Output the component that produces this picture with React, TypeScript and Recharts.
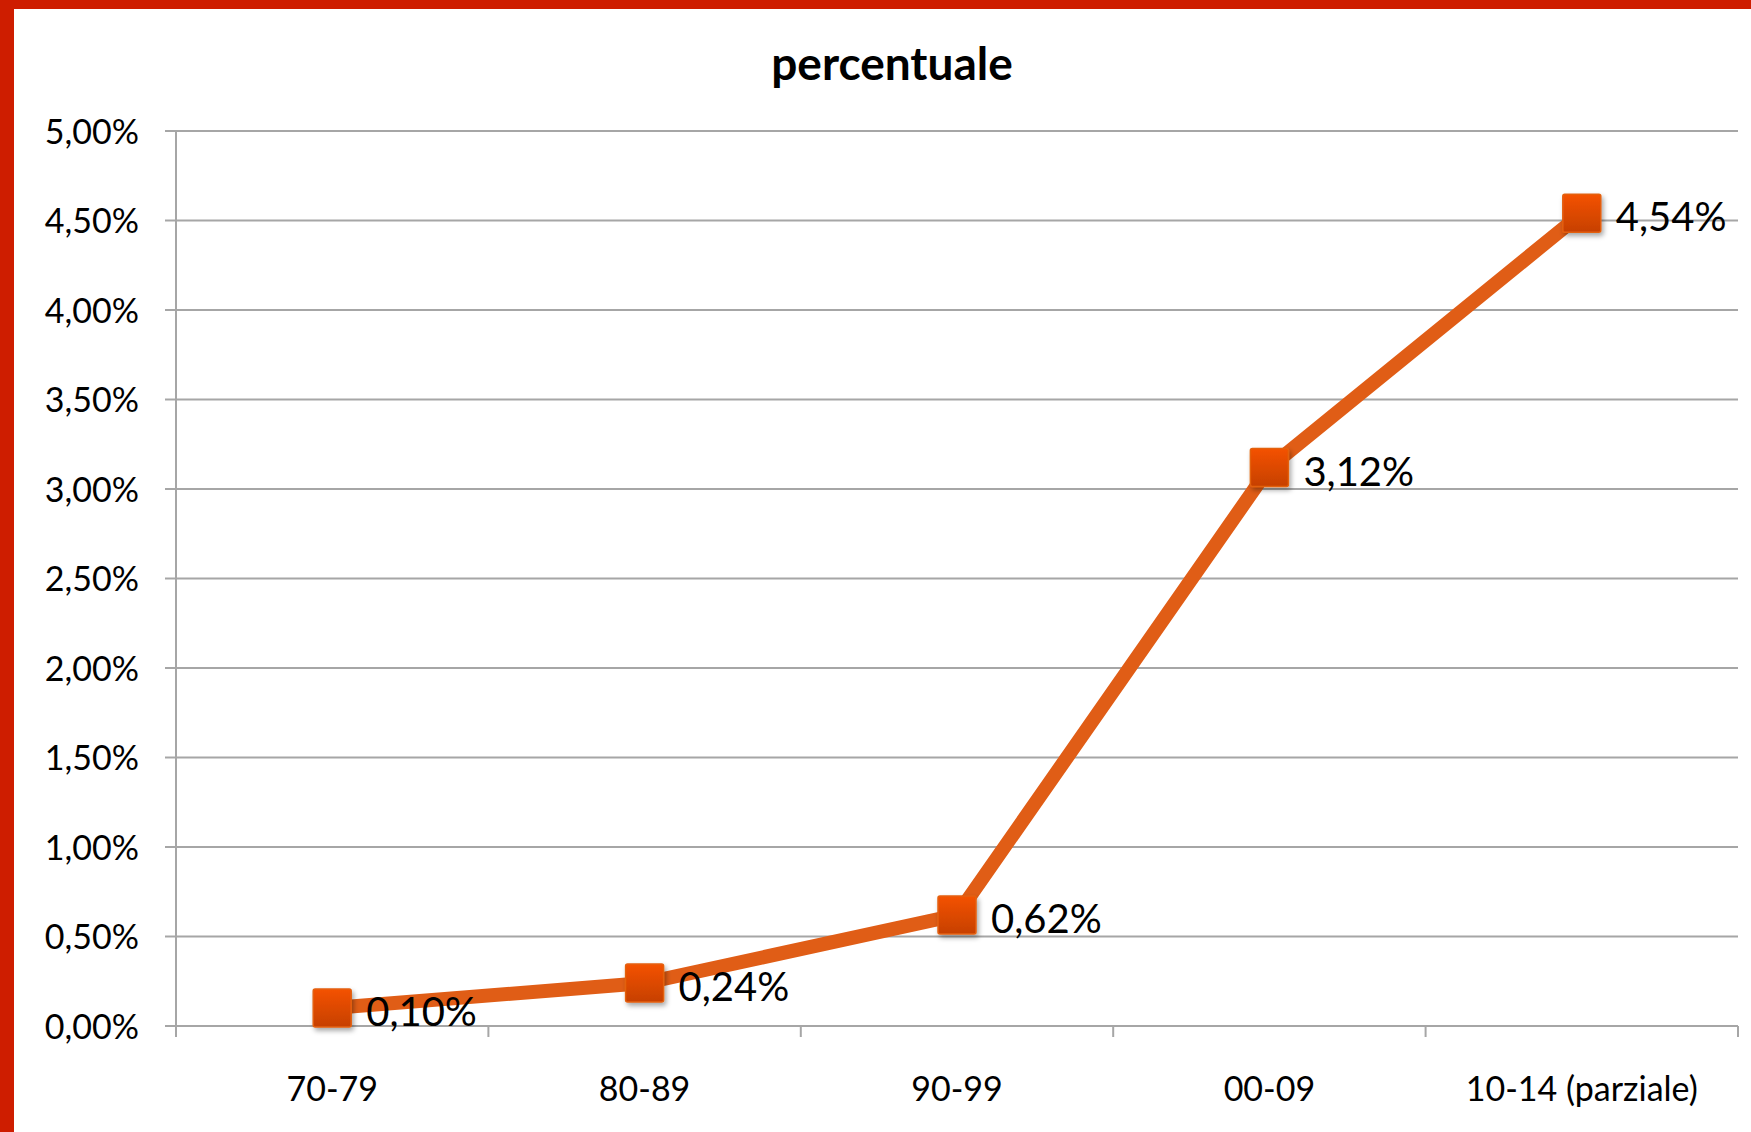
import React from 'react';
import { ComposedChart, Line, XAxis, YAxis, CartesianGrid, LabelList } from 'recharts';

const categories = ['70-79', '80-89', '90-99', '00-09', '10-14 (parziale)'];
const percentValues = [0.10, 0.24, 0.62, 3.12, 4.54];
const yTicks = [0, 0.5, 1, 1.5, 2, 2.5, 3, 3.5, 4, 4.5, 5];
const boundaryTicks = [0, 1, 2, 3, 4, 5];
const title = 'percentuale';

const data = categories.map((c, i) => ({ cat: c, value: percentValues[i] }));

const fmt = (v: number) => v.toFixed(2).replace('.', ',') + '%';

const FONT = 'Lato, "Open Sans", sans-serif';
const GRID = '#A6A6A6';

const renderSquare = (props: any) => {
  const { cx, cy, index } = props;
  if (cx == null || cy == null) return <g key={`d${index}`} />;
  const s = 38;
  const gid = `sqg${index}`;
  const fid = `sqf${index}`;
  return (
    <g key={`d${index}`}>
      <defs>
        <linearGradient id={gid} x1="0" y1="0" x2="0" y2="1">
          <stop offset="0%" stopColor="#F45200" />
          <stop offset="100%" stopColor="#C64000" />
        </linearGradient>
        <filter id={fid} x="-30%" y="-30%" width="170%" height="170%">
          <feDropShadow dx="2" dy="3" stdDeviation="2.5" floodColor="#000" floodOpacity="0.35" />
        </filter>
      </defs>
      <rect
        x={cx - s / 2}
        y={cy - s / 2}
        width={s}
        height={s}
        rx={2}
        fill={`url(#${gid})`}
        stroke="#E3600F"
        strokeWidth={1.5}
        filter={`url(#${fid})`}
      />
    </g>
  );
};

const renderLabel = (props: any) => {
  const { x, y, value, index } = props;
  return (
    <text
      key={`l${index}`}
      x={x + 34}
      y={y + 8}
      fontSize={40}
      fontFamily={FONT}
      fill="#000"
      dominantBaseline="middle"
    >
      {fmt(value)}
    </text>
  );
};

const renderYTick = (props: any) => {
  const { x, y, payload } = props;
  return (
    <text x={x} y={y + 4} textAnchor="end" dominantBaseline="middle" fontSize={34} fontFamily={FONT} fill="#000">
      {fmt(payload.value)}
    </text>
  );
};

const emptyTick = () => <g />;

export default function App() {
  return (
    <div style={{ position: 'absolute', left: 0, top: 0, width: 1751, height: 1132, background: '#fff', overflow: 'hidden' }}>
      <div style={{ position: 'absolute', left: 0, top: 0, width: 1751, height: 9, background: '#CE1D00' }} />
      <div style={{ position: 'absolute', left: 0, top: 0, width: 14, height: 1132, background: '#CE1D00' }} />
      <svg width={1751} height={1132} style={{ position: 'absolute', left: 0, top: 0, pointerEvents: 'none' }}>
        <text x={892} y={80} textAnchor="middle" fontSize={46} fontWeight="bold" fontFamily={FONT} fill="#000">
          {title}
        </text>
      </svg>
      <div style={{ position: 'absolute', left: 0, top: 0 }}>
        <ComposedChart width={1751} height={1132} data={data} margin={{ top: 131, right: 13, left: 0, bottom: 25 }}>
          <CartesianGrid vertical={false} stroke={GRID} strokeWidth={2} />
          <XAxis
            xAxisId="b"
            type="number"
            dataKey={() => 0}
            domain={[0, 5]}
            ticks={boundaryTicks}
            height={1}
            axisLine={false}
            tickLine={{ stroke: GRID, strokeWidth: 2 }}
            tickSize={11}
            tick={emptyTick}
            allowDataOverflow
          />
          <XAxis
            xAxisId="c"
            dataKey="cat"
            scale="band"
            height={80}
            axisLine={false}
            tickLine={false}
            tickSize={11}
            tickMargin={39}
            interval={0}
            tick={{ fontSize: 34, fontFamily: FONT, fill: '#000' }}
          />
          <YAxis
            domain={[0, 5]}
            ticks={yTicks}
            width={176}
            axisLine={{ stroke: GRID, strokeWidth: 2 }}
            tickLine={{ stroke: GRID, strokeWidth: 2 }}
            tickSize={11}
            tickMargin={26}
            tick={renderYTick}
            interval={0}
          />
          <Line
            xAxisId="c"
            dataKey="value"
            stroke="#E05D16"
            strokeWidth={14}
            dot={renderSquare}
            activeDot={false}
            isAnimationActive={false}
          >
            <LabelList dataKey="value" content={renderLabel} />
          </Line>
        </ComposedChart>
      </div>
    </div>
  );
}
